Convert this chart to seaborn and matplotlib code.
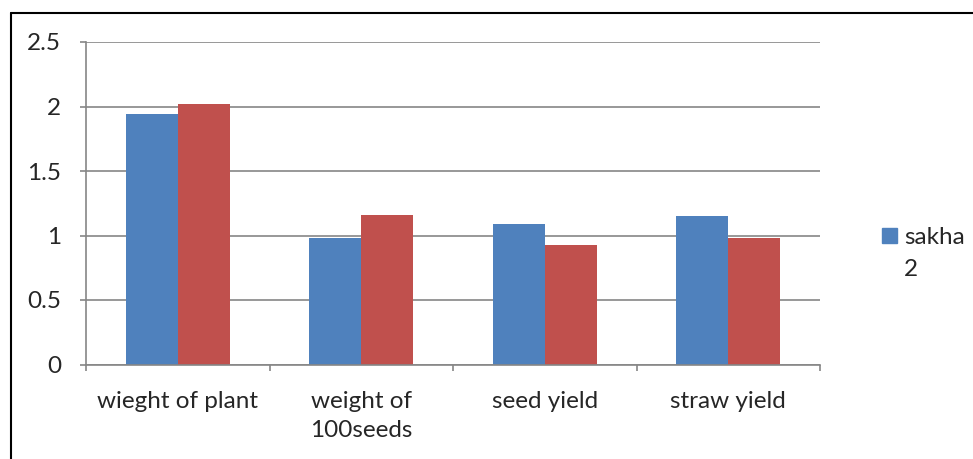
import pandas as pd
import matplotlib.pyplot as plt
import seaborn as sns
from matplotlib.lines import Line2D

categories = ["wieght of plant", "weight of\n100seeds", "seed yield", "straw yield"]
sakha2 = [1.94, 0.98, 1.09, 1.15]
other = [2.02, 1.16, 0.93, 0.98]
series_names = ["sakha 2", "other"]

df = pd.DataFrame({
    "trait": categories * 2,
    "value": sakha2 + other,
    "variety": [series_names[0]] * 4 + [series_names[1]] * 4,
})

sns.set_style("white")
plt.rcParams["font.family"] = ["Lato", "DejaVu Sans"]

fig = plt.figure(figsize=(9.73, 4.59), dpi=100)
ax = fig.add_axes([86 / 973, 1 - 364.5 / 459, 734 / 973, 322.5 / 459])

sns.barplot(data=df, x="trait", y="value", hue="variety",
            palette=["#4F81BD", "#C0504D"], width=0.567, saturation=1,
            linewidth=0, ax=ax, legend=False)

grid_col = "#868686"
fs = 17.5
ax.set_ylim(0, 2.5)
ax.set_xlim(-0.5, 3.5)
ax.set_yticks([0, 0.5, 1, 1.5, 2, 2.5])
ax.set_yticklabels(["0", "0.5", "1", "1.5", "2", "2.5"])
ax.yaxis.grid(True, color=grid_col, linewidth=1.2)
ax.set_axisbelow(True)
for s in ["top", "right"]:
    ax.spines[s].set_visible(False)
for s in ["left", "bottom"]:
    ax.spines[s].set_color(grid_col)
    ax.spines[s].set_linewidth(1.2)

ax.set_xticks([0, 1, 2, 3])
ax.set_xticklabels(categories, va="top", linespacing=1.5)
ax.set_xticks([-0.5, 0.5, 1.5, 2.5, 3.5], minor=True)
ax.tick_params(axis="x", which="major", length=0, pad=19, labelsize=fs)
ax.tick_params(axis="x", which="minor", length=4, width=1.2, color=grid_col,
               direction="out", bottom=True)
ax.tick_params(axis="y", length=4, width=1.2, color=grid_col, direction="out",
               left=True, pad=14, labelsize=fs)
ax.set_xlabel("")
ax.set_ylabel("")

# legend: only the first series is visible, its name wraps onto two lines
first, second = series_names[0].split(" ")
handle = plt.Rectangle((0, 0), 1, 1, color="#4F81BD")
fig.legend([handle], [first], loc="upper left",
           bbox_to_anchor=(882 / 973, 1 - 227 / 459), frameon=False,
           fontsize=fs, handlelength=0.62, handleheight=0.62, handletextpad=0.3,
           borderpad=0, borderaxespad=0)
fig.text(904 / 973, 1 - 269 / 459, second, fontsize=fs, va="center", ha="left")

# chart border (top and left edges visible)
fig.add_artist(Line2D([10.5 / 973, 10.5 / 973], [1 - 12.5 / 459, 0],
                      transform=fig.transFigure, color="black", linewidth=1.5))
fig.add_artist(Line2D([10.5 / 973, 1], [1 - 12.5 / 459, 1 - 12.5 / 459],
                      transform=fig.transFigure, color="black", linewidth=1.5))

fig.savefig("out.png", dpi=100)
